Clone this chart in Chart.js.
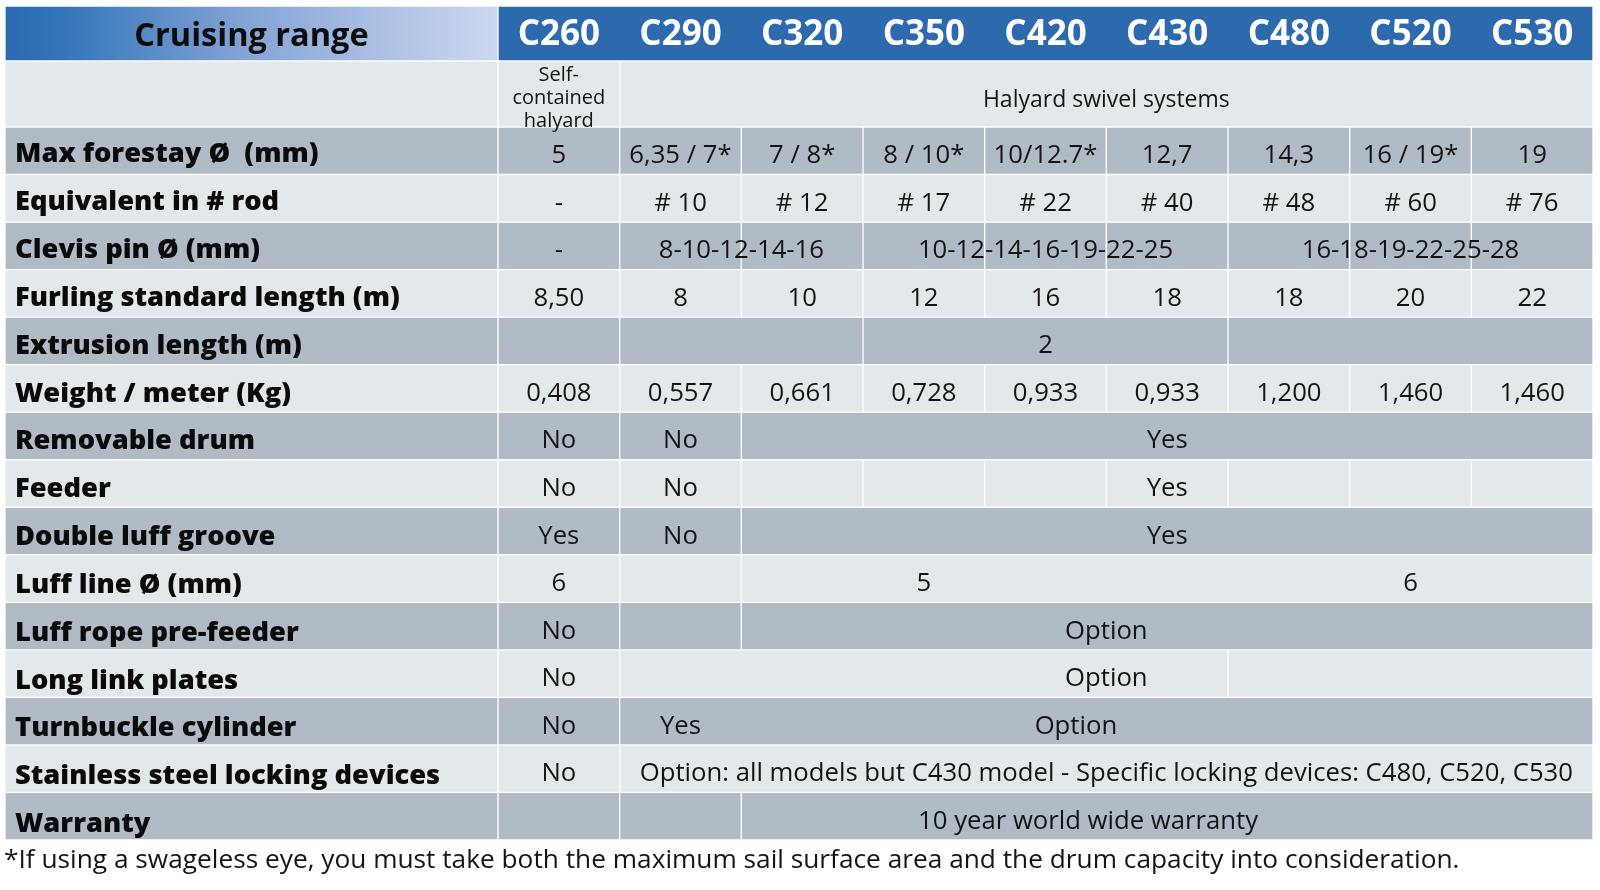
<!DOCTYPE html>
<html>
<head>
<meta charset="utf-8">
<script src="https://cdn.jsdelivr.net/npm/chart.js@4.4.1/dist/chart.umd.min.js"></script>
<style>
  html, body { margin: 0; padding: 0; background: #ffffff; }
  canvas { display: block; }
</style>
</head>
<body>
<canvas id="table" width="1600" height="890"></canvas>
<script>
// ---------------- DATA ----------------
const tableTitle = 'Cruising range';
const models = ['C260', 'C290', 'C320', 'C350', 'C420', 'C430', 'C480', 'C520', 'C530'];
const rowLabels = [
  'Max forestay Ø  (mm)', 'Equivalent in # rod', 'Clevis pin Ø (mm)', 'Furling standard length (m)',
  'Extrusion length (m)', 'Weight / meter (Kg)', 'Removable drum', 'Feeder', 'Double luff groove',
  'Luff line Ø (mm)', 'Luff rope pre-feeder', 'Long link plates', 'Turnbuckle cylinder',
  'Stainless steel locking devices', 'Warranty'
];
const footnote = '*If using a swageless eye, you must take both the maximum sail surface area and the drum capacity into consideration.';

// rows with one value per model
const maxForestay    = ['5', '6,35 / 7*', '7 / 8*', '8 / 10*', '10/12.7*', '12,7', '14,3', '16 / 19*', '19'];
const equivalentRod  = ['-', '# 10', '# 12', '# 17', '# 22', '# 40', '# 48', '# 60', '# 76'];
const furlingLength  = ['8,50', '8', '10', '12', '16', '18', '18', '20', '22'];
const weightPerMeter = ['0,408', '0,557', '0,661', '0,728', '0,933', '0,933', '1,200', '1,460', '1,460'];

// merged rows: cell = first model index of each merged cell; text = [text, column position]
const allCells = [0, 1, 2, 3, 4, 5, 6, 7, 8];
const halyardCells = [0, 1];
const halyardSystem = [['Self-\ncontained\nhalyard', 0.5], ['Halyard swivel systems', 5]];
const clevisPin = [['-', 0.5], ['8-10-12-14-16', 2], ['10-12-14-16-19-22-25', 4.5], ['16-18-19-22-25-28', 7.5]];
const extrusionCells = [0, 1, 3, 6];
const extrusionLength = [['2', 4.5]];
const removableCells = [0, 1, 2];
const removableDrum = [['No', 0.5], ['No', 1.5], ['Yes', 5.5]];
const feeder = [['No', 0.5], ['No', 1.5], ['Yes', 5.5]];
const doubleLuffCells = [0, 1, 2];
const doubleLuffGroove = [['Yes', 0.5], ['No', 1.5], ['Yes', 5.5]];
const luffLineCells = [0, 1, 2];
const luffLine = [['6', 0.5], ['5', 3.5], ['6', 7.5]];
const preFeederCells = [0, 1, 2];
const luffRopePreFeeder = [['No', 0.5], ['Option', 5]];
const longLinkCells = [0, 1, 6];
const longLinkPlates = [['No', 0.5], ['Option', 5]];
const turnbuckleCells = [0, 1];
const turnbuckleCylinder = [['No', 0.5], ['Yes', 1.5], ['Option', 4.75]];
const stainlessCells = [0, 1];
const stainlessLocking = [['No', 0.5], ['Option: all models but C430 model - Specific locking devices: C480, C520, C530', 5]];
const warrantyCells = [0, 1, 2];
const warranty = [['10 year world wide warranty', 4.85]];

// ---------------- LAYOUT / STYLE ----------------
const LAYOUT = { headerH: 55, halyardH: 66, rowH: 47.53, labelUnits: 4.052 };
const COLORS = { light: '#E3E8EB', dark: '#B1BBC5', blue: '#2C69AD', text: '#141414', line: '#FFFFFF' };
const FONT = '"Open Sans", "Noto Sans", "DejaVu Sans", sans-serif';

const each = arr => arr.map((t, i) => [t, i + 0.5]);
const bodyRows = [
  { cells: allCells, texts: each(maxForestay) },
  { cells: allCells, texts: each(equivalentRod) },
  { cells: allCells, texts: clevisPin },
  { cells: allCells, texts: each(furlingLength) },
  { cells: extrusionCells, texts: extrusionLength },
  { cells: allCells, texts: each(weightPerMeter) },
  { cells: removableCells, texts: removableDrum },
  { cells: allCells, texts: feeder },
  { cells: doubleLuffCells, texts: doubleLuffGroove },
  { cells: luffLineCells, texts: luffLine },
  { cells: preFeederCells, texts: luffRopePreFeeder },
  { cells: longLinkCells, texts: longLinkPlates },
  { cells: turnbuckleCells, texts: turnbuckleCylinder },
  { cells: stainlessCells, texts: stainlessLocking },
  { cells: warrantyCells, texts: warranty }
];

const N = models.length;
const totalH = LAYOUT.headerH + LAYOUT.halyardH + bodyRows.length * LAYOUT.rowH;
const headerCenter = LAYOUT.headerH / 2;
const halyardCenter = LAYOUT.headerH + LAYOUT.halyardH / 2;
const bodyCenter = k => LAYOUT.headerH + LAYOUT.halyardH + (k + 0.5) * LAYOUT.rowH;

function spans(cells) {
  return cells.map((s, i) => [s, i + 1 < cells.length ? cells[i + 1] : N]);
}
function rowData(cells, yc) {
  const d = [{ x: [-LAYOUT.labelUnits, 0], y: yc }];
  spans(cells).forEach(([a, b]) => d.push({ x: [a, b], y: yc }));
  return d;
}

function headerGradient(chart) {
  const area = chart.chartArea;
  if (!area || !isFinite(area.left) || !isFinite(area.right) || area.right <= area.left) return COLORS.blue;
  const x0 = area.left;
  const x1 = area.left + (area.right - area.left) * LAYOUT.labelUnits / (LAYOUT.labelUnits + N);
  const g = chart.ctx.createLinearGradient(x0, 0, x1, 0);
  g.addColorStop(0, '#2A6BB0');
  g.addColorStop(0.12, '#3475B9');
  g.addColorStop(0.5, '#86A6D7');
  g.addColorStop(1, '#CDD8EF');
  return g;
}

const baseDs = { borderColor: COLORS.line, borderWidth: 1, borderSkipped: false, grouped: false };
const datasets = [];
datasets.push(Object.assign({}, baseDs, {
  label: tableTitle,
  data: [{ x: [-LAYOUT.labelUnits, 0], y: headerCenter }, { x: [0, N], y: headerCenter }],
  barThickness: LAYOUT.headerH,
  backgroundColor: c => c.dataIndex === 0 ? headerGradient(c.chart) : COLORS.blue
}));
datasets.push(Object.assign({}, baseDs, {
  label: 'halyard',
  data: rowData(halyardCells, halyardCenter),
  barThickness: LAYOUT.halyardH,
  backgroundColor: COLORS.light
}));
bodyRows.forEach((r, k) => {
  datasets.push(Object.assign({}, baseDs, {
    label: rowLabels[k],
    data: rowData(r.cells, bodyCenter(k)),
    barThickness: LAYOUT.rowH,
    backgroundColor: k % 2 === 0 ? COLORS.dark : COLORS.light
  }));
});

function drawText(ctx, text, x, y, font, color, align, sx) {
  ctx.save();
  ctx.font = font;
  ctx.fillStyle = color;
  ctx.textAlign = align;
  ctx.textBaseline = 'alphabetic';
  ctx.translate(x, y);
  ctx.scale(sx, 1);
  ctx.fillText(text, 0, 0);
  ctx.restore();
}

const textPlugin = {
  id: 'tableText',
  afterDatasetsDraw(chart) {
    const ctx = chart.ctx;
    const xs = chart.scales.x, ys = chart.scales.y;
    const valFont = '25.7px ' + FONT;
    const labFont = '800 26.5px ' + FONT;
    const hdrFont = 'bold 35px ' + FONT;
    const smallFont = '20px ' + FONT;

    // header
    const hy = ys.getPixelForValue(headerCenter);
    drawText(ctx, tableTitle, xs.getPixelForValue(-LAYOUT.labelUnits / 2), hy + 12.5, 'bold 32.5px ' + FONT, '#0d0d0d', 'center', 1);
    models.forEach((m, i) => drawText(ctx, m, xs.getPixelForValue(i + 0.5), hy + 11.5, hdrFont, '#FFFFFF', 'center', 1));

    // halyard row
    const ay = ys.getPixelForValue(halyardCenter);
    halyardSystem.forEach(([t, pos]) => {
      const lines = t.split('\n');
      if (lines.length > 1) {
        lines.forEach((ln, j) => drawText(ctx, ln, xs.getPixelForValue(pos), ay + 10 + (j - 1) * 23, smallFont, COLORS.text, 'center', 1));
      } else {
        drawText(ctx, t, xs.getPixelForValue(pos), ay + 12.5, '23px ' + FONT, COLORS.text, 'center', 1);
      }
    });

    // body rows
    const lx = xs.getPixelForValue(-LAYOUT.labelUnits) + 10;
    bodyRows.forEach((r, k) => {
      const cy = ys.getPixelForValue(bodyCenter(k));
      drawText(ctx, rowLabels[k], lx, cy + 11.5 + k * 0.32, labFont, '#0a0a0a', 'left', 1.03);
      r.texts.forEach(([t, pos]) => {
        drawText(ctx, t, xs.getPixelForValue(pos), cy + 12.5, valFont, COLORS.text, 'center', 1);
      });
    });

    // footnote
    drawText(ctx, footnote, chart.chartArea.left - 1, chart.chartArea.bottom + 28.5, '26px ' + FONT, COLORS.text, 'left', 1.01);
  }
};

new Chart(document.getElementById('table'), {
  type: 'bar',
  data: { datasets },
  options: {
    indexAxis: 'y',
    responsive: false,
    maintainAspectRatio: false,
    animation: false,
    events: [],
    layout: { padding: { left: 5, right: 7, top: 6, bottom: 890 - 6 - totalH } },
    plugins: { legend: { display: false }, tooltip: { enabled: false }, title: { display: false } },
    scales: {
      x: { type: 'linear', min: -LAYOUT.labelUnits, max: N, offset: false, display: false },
      y: { type: 'linear', min: 0, max: totalH, reverse: true, offset: false, display: false }
    }
  },
  plugins: [textPlugin]
});
</script>
</body>
</html>
